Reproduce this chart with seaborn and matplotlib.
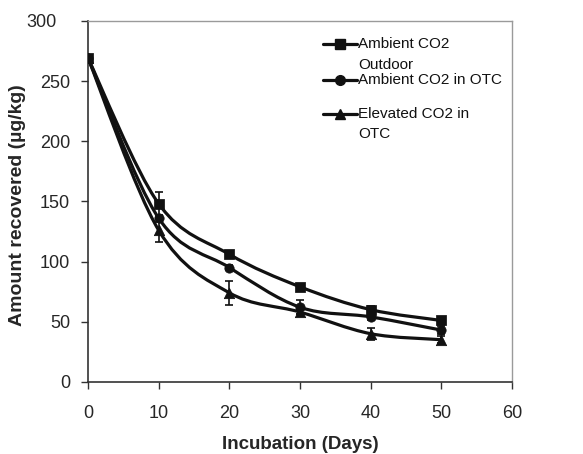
import numpy as np
import pandas as pd
import matplotlib
matplotlib.use("Agg")
import matplotlib.pyplot as plt
from matplotlib.path import Path
from matplotlib.patches import PathPatch
from matplotlib.lines import Line2D
from matplotlib.transforms import ScaledTranslation
import seaborn as sns

# data
days = [0, 10, 20, 30, 40, 50]
outdoor = [269, 148, 106, 79, 60, 51]
outdoor_err = [2, 10, 2, 2, 3, 2]
amb_otc = [269, 136, 95, 62, 54, 43]
amb_otc_err = [2, 3, 2, 6, 3, 3]
elev_otc = [269, 126, 74, 58, 40, 35]
elev_otc_err = [2, 10, 10, 2, 5, 3]

labels = ["Ambient CO2\nOutdoor", "Ambient CO2 in OTC", "Elevated CO2 in\nOTC"]
markers = ["s", "o", "^"]
msizes = [45, 45, 55]

sns.set_theme(style="white")
plt.rcParams['font.family'] = ['Liberation Sans', 'DejaVu Sans']

fig, ax = plt.subplots(figsize=(5.83, 4.54), dpi=100)
ink = "#111111"


def smooth_path(x, y):
    # Excel-style smoothed line: cubic Bezier through each point
    x = np.asarray(x, float)
    y = np.asarray(y, float)
    n = len(x)
    verts = [(x[0], y[0])]
    codes = [Path.MOVETO]
    for i in range(n - 1):
        p0 = np.array([x[max(i - 1, 0)], y[max(i - 1, 0)]])
        p1 = np.array([x[i], y[i]])
        p2 = np.array([x[i + 1], y[i + 1]])
        p3 = np.array([x[min(i + 2, n - 1)], y[min(i + 2, n - 1)]])
        c1 = p1 + (p2 - p0) / 6
        c2 = p2 - (p3 - p1) / 6
        verts += [tuple(c1), tuple(c2), tuple(p2)]
        codes += [Path.CURVE4] * 3
    return Path(verts, codes)


series = [(outdoor, outdoor_err), (amb_otc, amb_otc_err), (elev_otc, elev_otc_err)]
for (vals, err), mk, ms in zip(series, markers, msizes):
    ax.add_patch(PathPatch(smooth_path(days, vals), fill=False, lw=2.3,
                           edgecolor=ink, capstyle="round"))
    ax.errorbar(days, vals, yerr=err, fmt="none", ecolor=ink,
                elinewidth=1.2, capsize=3, capthick=1.2)
    df = pd.DataFrame({"x": days, "y": vals})
    sns.scatterplot(data=df, x="x", y="y", marker=mk, s=ms, color=ink,
                    edgecolor=ink, ax=ax, zorder=3)

ax.set_xlim(0, 60)
ax.set_ylim(0, 300)
ax.set_xticks(range(0, 61, 10))
ax.set_yticks(range(0, 301, 50))
ax.tick_params(axis="both", direction="out", length=5, width=1, labelsize=13,
               color="#333333", bottom=True, left=True)
ax.tick_params(axis="x", pad=12)
ax.tick_params(axis="y", pad=8)
# the top label sits a little further left in the original
top_lab = ax.get_yticklabels()[-1]
top_lab.set_transform(top_lab.get_transform() + ScaledTranslation(-0.13, 0, fig.dpi_scale_trans))
ax.set_ylabel("")

for s in ["left", "bottom"]:
    ax.spines[s].set_color("#333333")
    ax.spines[s].set_linewidth(1.2)
for s in ["top", "right"]:
    ax.spines[s].set_color("#9a9a9a")
    ax.spines[s].set_linewidth(1.0)

ax.set_xlabel("Incubation (Days)", fontsize=13.5, fontweight="bold", labelpad=10)
fig.text(0.03, 0.548, "Amount recovered (\u00b5g/kg)", rotation=90, fontsize=14,
         fontweight="bold", ha="center", va="center")

# legend drawn Excel-style: handle level with the first line of each label
leg_y = [0.935, 0.836, 0.742]
for lab, mk, yy in zip(labels, markers, leg_y):
    ax.add_line(Line2D([0.555, 0.635], [yy, yy], transform=ax.transAxes,
                       color=ink, lw=2.3, clip_on=False))
    ax.add_line(Line2D([0.595], [yy], transform=ax.transAxes, marker=mk,
                       ms=7 if mk != "^" else 7.5, color=ink, lw=0, clip_on=False))
    ax.text(0.637, yy + 0.019, lab, transform=ax.transAxes, fontsize=11,
            va="top", ha="left", linespacing=1.55, color=ink)

fig.subplots_adjust(left=0.151, right=0.878, top=0.954, bottom=0.159)
fig.savefig("out.png", dpi=100)
